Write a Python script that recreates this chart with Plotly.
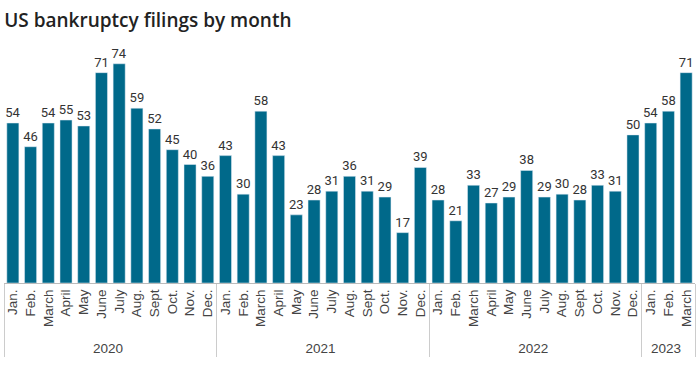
import plotly.graph_objects as go

years = ["2020"] * 12 + ["2021"] * 12 + ["2022"] * 12 + ["2023"] * 3
months_full = ["Jan.", "Feb.", "March", "April", "May", "June", "July", "Aug.",
               "Sept", "Oct.", "Nov.", "Dec."]
months = months_full * 3 + months_full[:3]
filings = [54, 46, 54, 55, 53, 71, 74, 59, 52, 45, 40, 36,
           43, 30, 58, 43, 23, 28, 31, 36, 31, 29, 17, 39,
           28, 21, 33, 27, 29, 38, 29, 30, 28, 33, 31, 50,
           54, 58, 71]

fig = go.Figure(go.Bar(
    x=[years, months], y=filings,
    marker_color="#00698a",
    text=[str(v) for v in filings], textposition="outside",
    textfont=dict(size=13, color="#333333", family="Roboto"),
    constraintext="none",
    cliponaxis=False,
))

fig.update_layout(
    width=700, height=365,
    margin=dict(l=4, r=5, t=46, b=82),
    paper_bgcolor="white", plot_bgcolor="white",
    bargap=0.32,
    showlegend=False,
    title=dict(text="US bankruptcy filings by month", x=0.006, xanchor="left",
               y=0.945, yanchor="middle",
               font=dict(size=19, color="#222222", family="Open Sans", weight=600)),
    font=dict(family="Liberation Sans", color="#444444", size=13),
)
fig.update_xaxes(type="multicategory", tickangle=-90, showline=True,
                 linecolor="#bbbbbb", linewidth=1, showdividers=True,
                 dividercolor="#cccccc", dividerwidth=1, automargin=False,
                 tickfont=dict(size=13.5, color="#444444", family="Liberation Sans"),
                 ticks="")
fig.update_yaxes(range=[0, 80], visible=False, showgrid=False, automargin=False)

fig.write_html("out.html", config={"displayModeBar": False},
               post_script="document.body.style.margin='0';document.body.style.overflow='hidden';")
